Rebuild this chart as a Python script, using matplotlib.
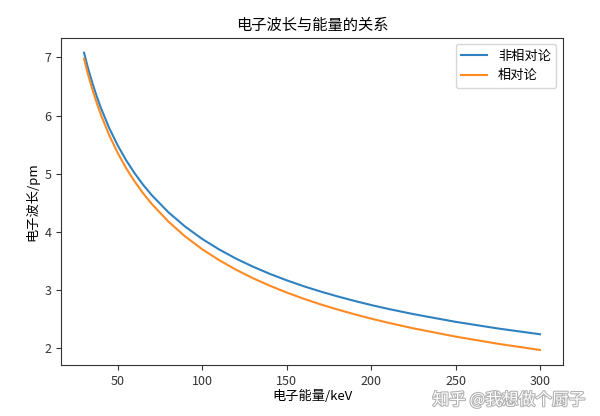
import matplotlib
matplotlib.use("Agg")
import matplotlib.pyplot as plt
import matplotlib.patheffects as pe

plt.rcParams['font.family'] = ['Noto Sans CJK SC', 'DejaVu Sans']
plt.rcParams['axes.unicode_minus'] = False

energy_keV = [30, 32.5, 35, 37.5, 40, 45, 50, 55, 60, 65, 70, 80, 90, 100, 110, 120, 130, 140,
              150, 160, 170, 180, 190, 200, 210, 225, 250, 275, 300]
lam_nonrel = [7.081, 6.803, 6.556, 6.333, 6.132, 5.781, 5.485, 5.230, 5.007, 4.810, 4.635,
              4.336, 4.088, 3.878, 3.698, 3.540, 3.402, 3.278, 3.167, 3.066, 2.975, 2.891,
              2.814, 2.742, 2.676, 2.586, 2.453, 2.339, 2.239]
lam_rel = [6.979, 6.695, 6.446, 6.219, 6.015, 5.658, 5.355, 5.093, 4.866, 4.664, 4.484,
           4.176, 3.919, 3.701, 3.514, 3.349, 3.204, 3.074, 2.957, 2.851, 2.754, 2.666,
           2.584, 2.508, 2.438, 2.341, 2.199, 2.076, 1.969]

labels = ['非相对论', '相对论']
title = '电子波长与能量的关系'
xlabel = '电子能量/keV'
ylabel = '电子波长/pm'

fig = plt.figure(figsize=(6.0, 4.16), dpi=100)
ax = fig.add_axes([0.102, 0.123, 0.836, 0.786])
ax.plot(energy_keV, lam_nonrel, color='#2f82bf', lw=1.5, label=labels[0])
ax.plot(energy_keV, lam_rel, color='#ff8a24', lw=1.5, label=labels[1])
ax.set_xticks([50, 100, 150, 200, 250, 300])
ax.set_yticks([2, 3, 4, 5, 6, 7])
ax.tick_params(labelsize=9, colors='#333333')
for s in ax.spines.values():
    s.set_color('#333333')
ax.set_title(title, fontsize=11)
ax.set_xlabel(xlabel, fontsize=9.5, labelpad=2)
ax.set_ylabel(ylabel, fontsize=9.5)
ax.legend(loc='upper right', fontsize=9.5)

fig.text(0.975, 0.038, '知乎 @我想做个厨子', ha='right', va='center', fontsize=12,
         color='white', path_effects=[pe.withStroke(linewidth=1.5, foreground='#b0b0b0')])

fig.savefig('out.png', dpi=100)
